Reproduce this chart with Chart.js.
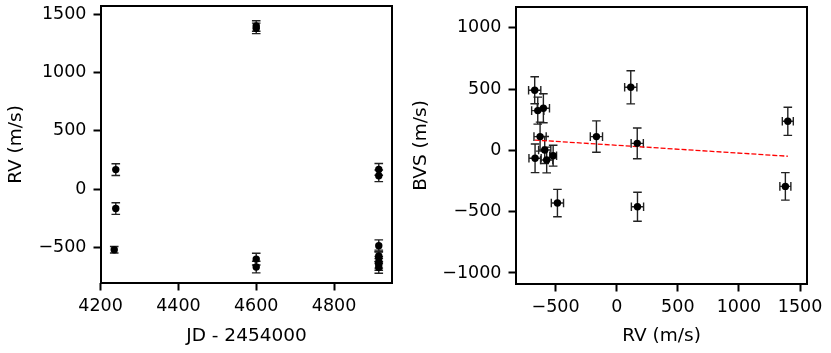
<!DOCTYPE html>
<html>
<head>
<meta charset="utf-8">
<script src="https://cdn.jsdelivr.net/npm/chart.js@4.4.1/dist/chart.umd.min.js"></script>
<style>
  html, body { margin: 0; padding: 0; background: #fff; }
  #wrap { position: relative; width: 831px; height: 353px; }
  #rvTime { position: absolute; left: 0; top: 0; }
  #bvsRv { position: absolute; left: 405px; top: 0; }
</style>
</head>
<body>
<div id="wrap">
  <canvas id="rvTime" width="405" height="353"></canvas>
  <canvas id="bvsRv" width="426" height="353"></canvas>
</div>
<script>
// observations (JD - 2454000), radial velocity and bisector span, all m/s
const jd     = [4235, 4239, 4239, 4600, 4600, 4600, 4600, 4915, 4915, 4915, 4915, 4915, 4915, 4915, 4915];
const rv     = [-520, -166, 168, 1400, 1380, -600, -668, 170, 115, -485, -573, -589, -627, -646, -671];
const rvErr  = [28, 50, 50, 45, 45, 50, 50, 50, 50, 50, 50, 50, 50, 50, 50];
const bvs    = [-44, 112, 57, 237, -294, 343, -65, -460, 514, -430, -79, 3, 112, 324, 490];
const bvsErr = [85, 128, 125, 115, 112, 118, 117, 118, 135, 112, 105, 110, 118, 110, 110];

// linear fit of BVS against RV (end points)
const fitRv  = [-670, 1400];
const fitBvs = [84, -48];

// axis ticks
const jdTicks  = [4200, 4400, 4600, 4800];
const rvTicks  = [-500, 0, 500, 1000, 1500];
const bvsTicks = [-1000, -500, 0, 500, 1000];

Chart.defaults.font.family = 'DejaVu Sans';
Chart.defaults.color = '#000';

const fmt = v => (v < 0 ? '\u2212' + Math.abs(v) : String(v));

// error bars drawn from dataset.xErr / dataset.yErr
const errorBars = {
  id: 'errorBars',
  beforeDatasetsDraw(chart) {
    const ctx = chart.ctx;
    const xs = chart.scales.x, ys = chart.scales.y;
    const cap = 4.3;
    chart.data.datasets.forEach(ds => {
      if (!ds.xErr && !ds.yErr) return;
      ctx.save();
      ctx.strokeStyle = '#222';
      ctx.lineWidth = 1.4;
      ds.data.forEach((p, i) => {
        const px = xs.getPixelForValue(p.x);
        const py = ys.getPixelForValue(p.y);
        ctx.beginPath();
        if (ds.yErr) {
          const t = ys.getPixelForValue(p.y + ds.yErr[i]);
          const b = ys.getPixelForValue(p.y - ds.yErr[i]);
          ctx.moveTo(px, t); ctx.lineTo(px, b);
          ctx.moveTo(px - cap, t); ctx.lineTo(px + cap, t);
          ctx.moveTo(px - cap, b); ctx.lineTo(px + cap, b);
        }
        if (ds.xErr) {
          const l = xs.getPixelForValue(p.x - ds.xErr[i]);
          const r = xs.getPixelForValue(p.x + ds.xErr[i]);
          ctx.moveTo(l, py); ctx.lineTo(r, py);
          ctx.moveTo(l, py - cap); ctx.lineTo(l, py + cap);
          ctx.moveTo(r, py - cap); ctx.lineTo(r, py + cap);
        }
        ctx.stroke();
      });
      ctx.restore();
    });
  }
};

// black box around the plotting area
const frame = {
  id: 'frame',
  afterDraw(chart) {
    const { ctx, chartArea: a } = chart;
    ctx.save();
    ctx.strokeStyle = '#000';
    ctx.lineWidth = 2;
    ctx.strokeRect(a.left, a.top, a.right - a.left, a.bottom - a.top);
    ctx.restore();
  }
};

function axis(min, max, ticks, title, pad, fitFn) {
  return {
    type: 'linear',
    min: min,
    max: max,
    afterBuildTicks: s => { s.ticks = ticks.map(v => ({ value: v })); },
    afterFit: s => {
      fitFn(s);
      s.paddingTop = 0; s.paddingBottom = 0; s.paddingLeft = 0; s.paddingRight = 0;
    },
    border: { display: false },
    grid: { drawOnChartArea: false, drawTicks: true, tickLength: 7.5, tickWidth: 2, tickColor: '#000' },
    ticks: { font: { size: 17.5 }, padding: pad, maxRotation: 0, autoSkip: false, callback: fmt },
    title: { display: true, text: title, font: { size: 18.5 }, padding: { top: 5, bottom: 6 } }
  };
}

function baseOptions(pad) {
  return {
    responsive: false,
    animation: false,
    layout: { padding: pad },
    plugins: { legend: { display: false }, tooltip: { enabled: false } },
    elements: { point: { radius: 3.7, backgroundColor: '#000', borderWidth: 0 } },
    scales: {}
  };
}

// left panel: RV vs time
const optL = baseOptions({ top: 6, right: 13, left: 0, bottom: 0 });
optL.scales.x = axis(4201, 4949, jdTicks, 'JD - 2454000', 5, s => { s.height = 70; });
optL.scales.y = axis(-805, 1572, rvTicks, 'RV (m/s)', 7, s => { s.width = 101; });

new Chart(document.getElementById('rvTime'), {
  type: 'scatter',
  data: {
    datasets: [{
      data: jd.map((x, i) => ({ x: x, y: rv[i] })),
      yErr: rvErr,
      pointBackgroundColor: '#000'
    }]
  },
  options: optL,
  plugins: [errorBars, frame]
});

// right panel: BVS vs RV
const optR = baseOptions({ top: 7, right: 24, left: 0, bottom: 0 });
optR.scales.x = axis(-824, 1557, rvTicks, 'RV (m/s)', 5, s => { s.height = 69; });
optR.scales.y = axis(-1090, 1169, bvsTicks, 'BVS (m/s)', 7, s => { s.width = 111; });

new Chart(document.getElementById('bvsRv'), {
  type: 'scatter',
  data: {
    datasets: [{
      data: rv.map((x, i) => ({ x: x, y: bvs[i] })),
      xErr: rvErr,
      yErr: bvsErr,
      pointBackgroundColor: '#000'
    }, {
      type: 'line',
      data: fitRv.map((x, i) => ({ x: x, y: fitBvs[i] })),
      borderColor: '#ff0000',
      borderWidth: 1.3,
      borderDash: [5, 2],
      pointRadius: 0,
      fill: false
    }]
  },
  options: optR,
  plugins: [errorBars, frame]
});
</script>
</body>
</html>
